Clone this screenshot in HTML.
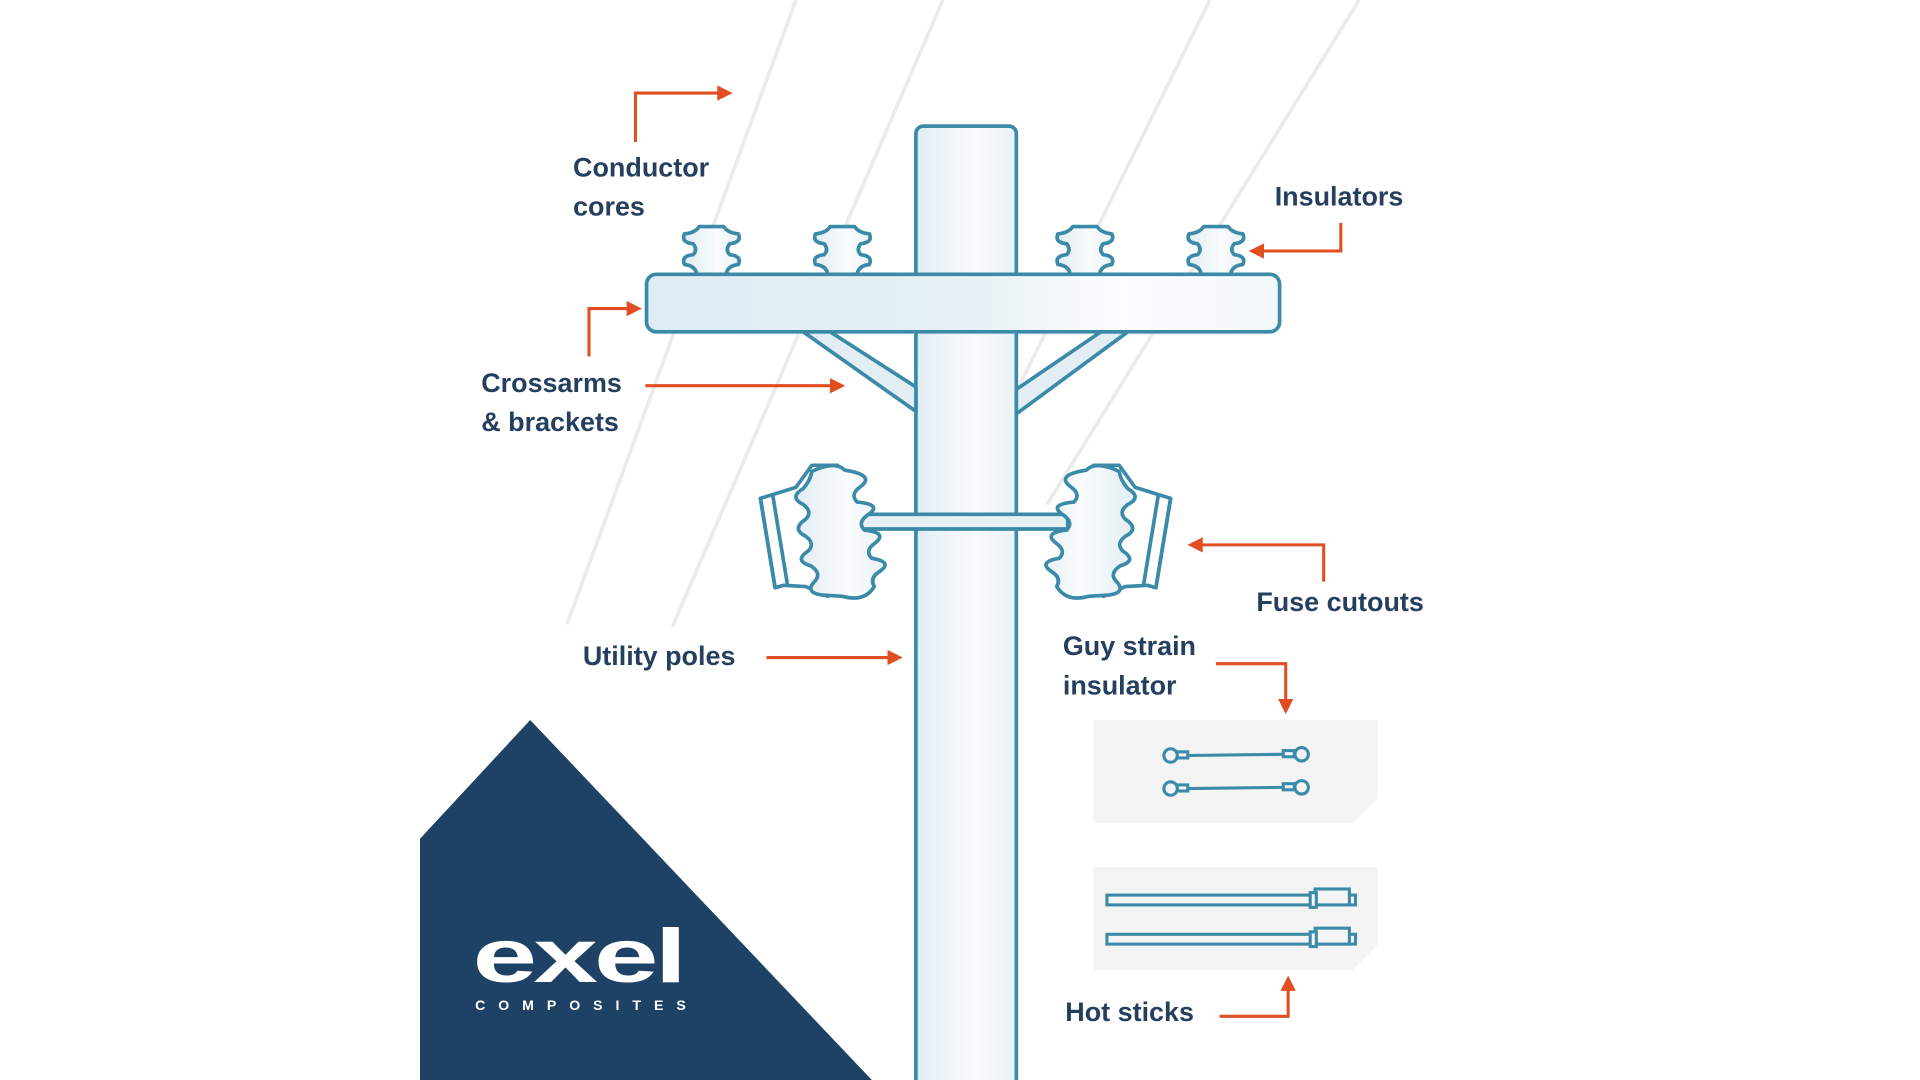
<!DOCTYPE html>
<html><head><meta charset="utf-8"><style>
html,body{margin:0;padding:0;background:#fff;}
svg{display:block;}
text{font-family:"Liberation Sans",sans-serif;font-weight:bold;fill:#253f5f;}
</style></head><body>
<svg width="1920" height="1080" viewBox="0 0 1568 882" xmlns="http://www.w3.org/2000/svg">
<defs>
<linearGradient id="pg" x1="0" x2="1" y1="0" y2="0">
<stop offset="0" stop-color="#e1edf4"/><stop offset="0.6" stop-color="#fafcfd"/><stop offset="1" stop-color="#e8f1f6"/></linearGradient>
<linearGradient id="cg" x1="0" x2="1" y1="0" y2="0">
<stop offset="0" stop-color="#dfecf3"/><stop offset="0.5" stop-color="#e6f0f5"/><stop offset="0.75" stop-color="#fbfdfe"/><stop offset="1" stop-color="#f2f7fa"/></linearGradient>
<marker id="ah" viewBox="0 0 10 10" refX="5" refY="5" markerWidth="5" markerHeight="5" orient="auto"><path d="M0,0 L10,5 L0,10 z" fill="#e04e22"/></marker>
</defs>
<!-- wires -->
<g stroke="#ebebeb" stroke-width="3" fill="none">
<line x1="650" y1="0" x2="463" y2="510"/>
<line x1="770" y1="0" x2="549" y2="512"/>
<line x1="988" y1="0" x2="830" y2="320"/>
<line x1="1110" y1="0" x2="855" y2="412"/>
</g>
<!-- logo triangle -->
<polygon points="343,685 433,588 712,882 343,882" fill="#1e4266"/>
<text x="386" y="802" style="font-family:'Liberation Sans',sans-serif;font-weight:900;fill:#fff" font-size="62" letter-spacing="-2" textLength="172" lengthAdjust="spacingAndGlyphs">exel</text>
<text x="388" y="825" style="fill:#fff" font-size="11.5" textLength="172" lengthAdjust="spacing">COMPOSITES</text>
<!-- pole -->
<rect x="748" y="103" width="82" height="800" rx="6" fill="url(#pg)" stroke="#3a8aa8" stroke-width="3"/>
<!-- brackets -->
<g fill="#e3eef4" stroke="#3a8aa8" stroke-width="3" stroke-linejoin="round">
<polygon points="656,271 678,271 748,316 748,336"/>
<polygon points="921,271 899,271 830,318 830,338"/>
</g>
<!-- insulators -->
<g fill="url(#pg)" stroke="#3a8aa8" stroke-width="3" stroke-linejoin="round">
<path id="ins" d="M571,185 H591 Q594,190 603,191 Q606,198 596,199 Q592,204 596,208 Q606,209 603,216 Q594,217 593,224 H569 Q568,217 559,216 Q556,209 566,208 Q570,204 566,199 Q556,198 559,191 Q568,190 571,185 Z"/>
<use href="#ins" x="107"/><use href="#ins" x="305"/><use href="#ins" x="412"/>
</g>
<!-- crossarm -->
<rect x="528" y="224" width="517" height="47" rx="8" fill="url(#cg)" stroke="#3a8aa8" stroke-width="3"/>
<!-- fuse cutouts -->
<g stroke="#3a8aa8" stroke-width="3" fill="url(#pg)" stroke-linejoin="round">
<rect x="700" y="420" width="172" height="12" fill="#e6f0f5"/>
<g id="fc">
<polygon points="621,407 650,398 663,380 684,380 690,470 676,487 658,479 640,478 633,480" fill="#fff"/>
<line x1="621" y1="407" x2="633" y2="480"/><line x1="631" y1="404" x2="643" y2="477"/>
<path d="M663,385 Q682,376 690,384 Q716,388 702,398 Q694,404 700,410 Q722,412 708,421 Q700,427 706,433 Q726,435 714,444 Q706,450 712,456 Q730,459 718,467 Q710,472 714,479 Q706,492 688,487 L672,486 Q656,484 666,474 Q671,468 662,462 Q648,458 660,450 Q666,444 658,438 Q646,432 658,424 Q664,418 656,412 Q644,406 656,399 Q662,392 663,385 Z"/>
</g>
<use href="#fc" transform="translate(1577,0) scale(-1,1)"/>
</g>
<!-- panels -->
<polygon points="893,588 1125,588 1125,652 1105,672 893,672" fill="#f4f4f4"/>
<polygon points="893,708 1125,708 1125,772 1105,792 893,792" fill="#f4f4f4"/>
<g stroke="#3a8aa8" stroke-width="2.5" fill="#f4f4f4">
<line x1="970" y1="617" x2="1048" y2="616"/><line x1="970" y1="644" x2="1048" y2="643"/>
<rect x="961" y="614" width="9" height="5"/><rect x="1048" y="613" width="9" height="5"/>
<rect x="961" y="641" width="9" height="5"/><rect x="1048" y="640" width="9" height="5"/>
<circle cx="956" cy="617" r="5.5"/><circle cx="1063" cy="616" r="5.5"/>
<circle cx="956" cy="644" r="5.5"/><circle cx="1063" cy="643" r="5.5"/>
<rect x="904" y="731" width="203" height="8"/><rect x="1074" y="726" width="28" height="13"/><rect x="1070" y="729" width="5" height="12"/>
<rect x="904" y="763" width="203" height="8"/><rect x="1074" y="758" width="28" height="13"/><rect x="1070" y="761" width="5" height="12"/>
</g>
<!-- arrows -->
<g stroke="#e04e22" stroke-width="2.5" fill="none" marker-end="url(#ah)">
<polyline points="519,116 519,76 592,76"/>
<polyline points="1095,182 1095,205 1026,205"/>
<polyline points="481,291 481,252 518,252"/>
<polyline points="527,315 684,315"/>
<polyline points="1081,475 1081,445 976,445"/>
<polyline points="626,537 731,537"/>
<polyline points="993,542 1050,542 1050,577"/>
<polyline points="996,830 1052,830 1052,803"/>
</g>
<!-- labels -->
<g font-size="22">
<text x="468" y="144">Conductor</text>
<text x="468" y="176">cores</text>
<text x="1041" y="168">Insulators</text>
<text x="393" y="320">Crossarms</text>
<text x="393" y="352">&amp; brackets</text>
<text x="1026" y="499">Fuse cutouts</text>
<text x="476" y="543">Utility poles</text>
<text x="868" y="535">Guy strain</text>
<text x="868" y="567">insulator</text>
<text x="870" y="834">Hot sticks</text>
</g>
</svg>
</body></html>
